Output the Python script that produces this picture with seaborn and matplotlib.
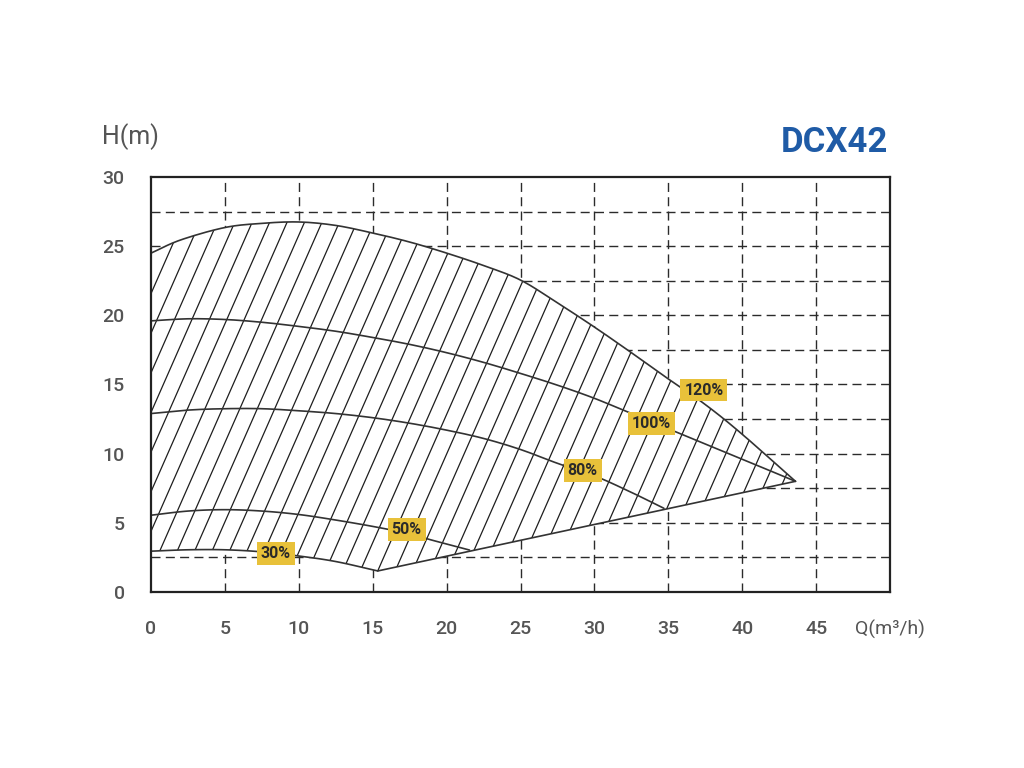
import numpy as np
import matplotlib
matplotlib.use("Agg")
import matplotlib.pyplot as plt
import seaborn as sns
from matplotlib.patches import Polygon
from matplotlib.collections import LineCollection

# ---- data ----
Q120 = [0, 2, 5, 7.5, 10, 12.5, 15, 17.5, 20, 22.5, 25, 27.5, 30, 32.5, 35, 37.5, 40, 43.6]
H120 = [24.5, 25.45, 26.35, 26.65, 26.75, 26.5, 25.95, 25.3, 24.5, 23.6, 22.55, 20.9, 19.15, 17.3, 15.4, 13.55, 11.4, 8.0]

Q100 = [0, 2.5, 5, 7.5, 10, 12.5, 15, 17.5, 20, 22.5, 25, 27.5, 30, 32.5, 35, 37.5, 40, 43.6]
H100 = [19.6, 19.75, 19.7, 19.5, 19.2, 18.85, 18.4, 17.9, 17.3, 16.6, 15.8, 14.95, 14.0, 12.9, 11.8, 10.7, 9.6, 8.0]

Q80 = [0, 2.5, 5, 7.5, 10, 12.5, 15, 17.5, 20, 22.5, 25, 27.5, 30, 32.5, 34.7]
H80 = [12.9, 13.15, 13.25, 13.25, 13.1, 12.9, 12.6, 12.2, 11.7, 11.1, 10.3, 9.3, 8.4, 7.2, 6.05]

Q50 = [0, 2.5, 5, 7.5, 10, 12.5, 15.2, 17.5, 19, 21.55]
H50 = [5.55, 5.85, 5.95, 5.85, 5.6, 5.2, 4.7, 4.2, 3.75, 3.03]

Q30 = [0, 2.5, 5, 7.5, 10, 12.5, 15.34]
H30 = [2.95, 3.05, 3.05, 2.9, 2.6, 2.2, 1.52]

Q_lim = [15.34, 43.6]
H_lim = [1.52, 8.0]

labels = ["120%", "100%", "80%", "50%", "30%"]
label_Q = [37.4, 33.85, 29.2, 17.3, 8.45]
label_H = [14.6, 12.2, 8.8, 4.5, 2.8]

x_ticks = [0, 5, 10, 15, 20, 25, 30, 35, 40, 45, 50]
x_ticklabels = ["0", "5", "10", "15", "20", "25", "30", "35", "40", "45", "Q(m³/h)"]
y_ticks = [0, 5, 10, 15, 20, 25, 30]
title = "DCX42"
y_title = "H(m)"


def smooth(xs, ys, n=12):
    """Catmull-Rom rendering of a curve through the read points."""
    x = np.asarray(xs, float); y = np.asarray(ys, float)
    px = np.concatenate([[2 * x[0] - x[1]], x, [2 * x[-1] - x[-2]]])
    py = np.concatenate([[2 * y[0] - y[1]], y, [2 * y[-1] - y[-2]]])
    ox, oy = [], []
    for i in range(1, len(px) - 2):
        t = np.linspace(0, 1, n, endpoint=False)
        for arr, out in ((px, ox), (py, oy)):
            p0, p1, p2, p3 = arr[i - 1], arr[i], arr[i + 1], arr[i + 2]
            out.extend(0.5 * ((2 * p1) + (-p0 + p2) * t + (2 * p0 - 5 * p1 + 4 * p2 - p3) * t ** 2
                              + (-p0 + 3 * p1 - 3 * p2 + p3) * t ** 3))
    ox.append(x[-1]); oy.append(y[-1])
    return np.array(ox), np.array(oy)


sns.set_theme(style="white")
plt.rcParams["font.family"] = ["Roboto", "DejaVu Sans"]

fig = plt.figure(figsize=(10.24, 7.68), dpi=100)
ax = fig.add_axes([0.1475, 0.2292, 0.7217, 0.5403])
ax.set_xlim(0, 50)
ax.set_ylim(0, 30)

# grid
grid_kw = dict(color="#2b2b2b", lw=1.0, dashes=(6.5, 3.8), zorder=1)
for gx in np.arange(5, 50, 5):
    ax.axvline(gx, **grid_kw)
for gy in np.arange(2.5, 30, 2.5):
    ax.axhline(gy, **grid_kw)

# region polygon
s30x, s30y = smooth(Q30, H30)
s120x, s120y = smooth(Q120, H120)
poly_x = np.concatenate([s30x, [Q_lim[1]], s120x[::-1]])
poly_y = np.concatenate([s30y, [H_lim[1]], s120y[::-1]])
region = Polygon(np.column_stack([poly_x, poly_y]), closed=True, facecolor="white",
                 edgecolor="none", transform=ax.transData, zorder=2)
ax.add_patch(region)

# hatch lines
k = 0.412
spacing = 1.18
q0s = 14.71 + spacing * np.arange(-23, 26)
segs = [[(q0, 0), (q0 + k * 30, 30)] for q0 in q0s]
lc = LineCollection(segs, colors="#1e1e1e", linewidths=0.9, zorder=3)
ax.add_collection(lc)
lc.set_clip_path(region)

# curves
for qq, hh in ((Q120, H120), (Q100, H100), (Q80, H80), (Q50, H50), (Q30, H30)):
    sx, sy = smooth(qq, hh)
    sns.lineplot(x=sx, y=sy, ax=ax, color="#333333", lw=1.2, sort=False, estimator=None, zorder=4)
sns.lineplot(x=Q_lim, y=H_lim, ax=ax, color="#333333", lw=1.2, sort=False, estimator=None, zorder=4)

# labels
for t, qx, hy in zip(labels, label_Q, label_H):
    ax.text(qx, hy, t, ha="center", va="center", fontsize=11.5, fontweight="bold", color="#2a2a2a",
            zorder=6, bbox=dict(boxstyle="square,pad=0.24", facecolor="#E8C13A", edgecolor="none"))

# axes styling
for sp in ax.spines.values():
    sp.set_visible(True)
    sp.set_color("#222222")
    sp.set_linewidth(1.6)
    sp.set_zorder(7)
ax.set_xticks(x_ticks)
ax.set_xticklabels(x_ticklabels)
ax.set_yticks(y_ticks)
ax.set_yticklabels([str(v) for v in y_ticks])
ax.tick_params(axis="both", length=0, labelsize=14, labelcolor="#555555")
ax.tick_params(axis="x", pad=20)
ax.tick_params(axis="y", pad=19)
for lab in ax.get_xticklabels() + ax.get_yticklabels():
    lab.set_fontweight("medium")
ax.get_xticklabels()[-1].set_fontweight("normal")
ax.set_xlabel("")
ax.set_ylabel("")

fig.text(130 / 1024, 1 - 137 / 768, y_title, ha="center", va="center", fontsize=18, color="#555555")
fig.text(834 / 1024, 1 - 142 / 768, title, ha="center", va="center", fontsize=25, fontweight="bold",
         color="#1F5BA6")

fig.savefig("out.png", dpi=100, facecolor="white")
